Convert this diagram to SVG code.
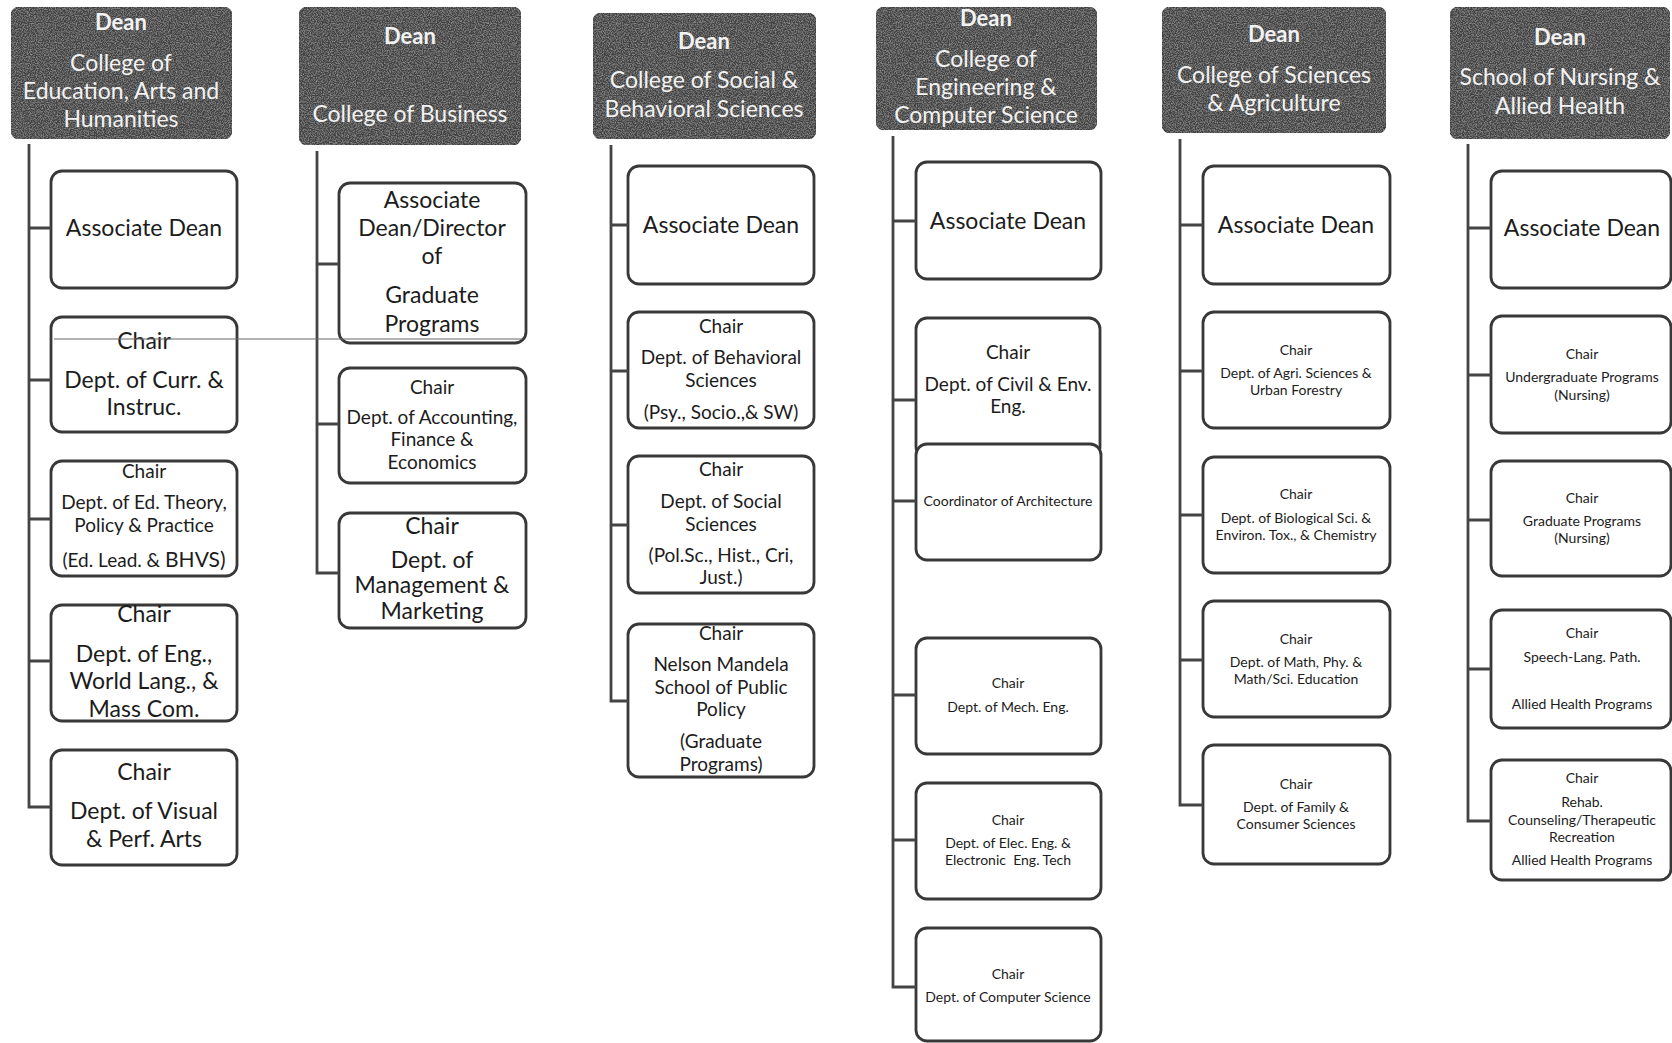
<svg xmlns="http://www.w3.org/2000/svg" width="1672" height="1043" viewBox="0 0 1672 1043">
  <defs>
    <!-- faint speckle texture for the dark heading boxes -->
    <filter id="grain" x="0" y="0" width="100%" height="100%">
      <feTurbulence type="fractalNoise" baseFrequency="0.85" numOctaves="2" seed="7" result="noise"/>
      <feColorMatrix in="noise" type="matrix" values="0 0 0 0 1  0 0 0 0 1  0 0 0 0 1  0.55 0 0 0 -0.22" result="speck"/>
      <feComposite in="speck" in2="SourceGraphic" operator="in" result="speckIn"/>
      <feMerge><feMergeNode in="SourceGraphic"/><feMergeNode in="speckIn"/></feMerge>
    </filter>
  </defs>
  <style>
    .dean { fill: #434343; stroke: #3e3e3e; stroke-width: 1.5; filter: url(#grain); }
    .box { fill: #ffffff; stroke: #383838; stroke-width: 2.8; }
    .link { fill: none; stroke: #444444; stroke-width: 2.8; }
    .stray { fill: none; stroke: #6a6a6a; stroke-width: 1.2; }
    text { font-family: Lato, "Noto Sans", "Liberation Sans", sans-serif; text-anchor: middle; }
    .dt { fill: #f2f2f2; font-size: 23px; }
    .dh { fill: #f2f2f2; font-size: 22px; font-weight: bold; }
    .l { fill: #1c1c1c; font-size: 23px; }
    .m { fill: #1c1c1c; font-size: 19px; }
    .s { fill: #1c1c1c; font-size: 14px; }
    .xs { fill: #1c1c1c; font-size: 14px; }
  </style>

  <!-- College of Education, Arts and Humanities -->
  <g id="dean-education">
    <rect class="dean" x="11" y="7" width="221" height="132" rx="9"/>
    <text class="dh" x="121" y="30">Dean</text>
    <text class="dt" x="121" y="71">College of</text>
    <text class="dt" x="121" y="99">Education, Arts and</text>
    <text class="dt" x="121" y="127">Humanities</text>
  </g>
  <g id="edu-assoc-dean">
    <rect class="box" x="51" y="171" width="186" height="117" rx="11"/>
    <text class="l" x="144" y="236">Associate Dean</text>
  </g>
  <g id="edu-curr-instruc">
    <rect class="box" x="51" y="317" width="186" height="115" rx="11"/>
    <text class="l" x="144" y="349">Chair</text>
    <text class="l" x="144" y="388">Dept. of Curr. &amp;</text>
    <text class="l" x="144" y="415">Instruc.</text>
  </g>
  <g id="edu-ed-theory">
    <rect class="box" x="51" y="461" width="186" height="115" rx="11"/>
    <text class="m" x="144" y="478" font-size="17">Chair</text>
    <text class="m" x="144" y="509">Dept. of Ed. Theory,</text>
    <text class="m" x="144" y="532">Policy &amp; Practice</text>
    <text class="m" x="144" y="567">(Ed. Lead. &amp; <tspan font-size="21">BHVS)</tspan></text>
  </g>
  <g id="edu-english">
    <rect class="box" x="51" y="605" width="186" height="116" rx="11"/>
    <text class="l" x="144" y="622">Chair</text>
    <text class="l" x="144" y="662">Dept. of Eng.,</text>
    <text class="l" x="144" y="689">World Lang., &amp;</text>
    <text class="l" x="144" y="717">Mass Com.</text>
  </g>
  <g id="edu-visual-arts">
    <rect class="box" x="51" y="750" width="186" height="115" rx="11"/>
    <text class="l" x="144" y="780">Chair</text>
    <text class="l" x="144" y="819">Dept. of Visual</text>
    <text class="l" x="144" y="847">&amp; Perf. Arts</text>
  </g>

  <!-- College of Business -->
  <g id="dean-business">
    <rect class="dean" x="299" y="7" width="222" height="138" rx="9"/>
    <text class="dh" x="410" y="44">Dean</text>
    <text class="dt" x="410" y="122">College of Business</text>
  </g>
  <g id="bus-assoc-dean">
    <rect class="box" x="339" y="183" width="187" height="160" rx="11"/>
    <text class="l" x="432" y="208">Associate</text>
    <text class="l" x="432" y="236">Dean/Director</text>
    <text class="l" x="432" y="264">of</text>
    <text class="l" x="432" y="303">Graduate</text>
    <text class="l" x="432" y="332">Programs</text>
  </g>
  <g id="bus-accounting">
    <rect class="box" x="339" y="368" width="187" height="115" rx="11"/>
    <text class="m" x="432" y="394">Chair</text>
    <text class="m" x="432" y="424">Dept. of Accounting,</text>
    <text class="m" x="432" y="446">Finance &amp;</text>
    <text class="m" x="432" y="469">Economics</text>
  </g>
  <g id="bus-management">
    <rect class="box" x="339" y="513" width="187" height="115" rx="11"/>
    <text class="l" x="432" y="534" font-size="20">Chair</text>
    <text class="l" x="432" y="568" font-size="20">Dept. of</text>
    <text class="l" x="432" y="593" font-size="20">Management &amp;</text>
    <text class="l" x="432" y="619" font-size="20">Marketing</text>
  </g>

  <!-- College of Social & Behavioral Sciences -->
  <g id="dean-social">
    <rect class="dean" x="593" y="13" width="223" height="126" rx="9"/>
    <text class="dh" x="704" y="49">Dean</text>
    <text class="dt" x="704" y="88">College of Social &amp;</text>
    <text class="dt" x="704" y="117">Behavioral Sciences</text>
  </g>
  <g id="soc-assoc-dean">
    <rect class="box" x="628" y="166" width="186" height="118" rx="11"/>
    <text class="l" x="721" y="233">Associate Dean</text>
  </g>
  <g id="soc-behavioral">
    <rect class="box" x="628" y="312" width="186" height="116" rx="11"/>
    <text class="m" x="721" y="333">Chair</text>
    <text class="m" x="721" y="364">Dept. of Behavioral</text>
    <text class="m" x="721" y="387">Sciences</text>
    <text class="m" x="721" y="419">(Psy., Socio.,&amp; SW)</text>
  </g>
  <g id="soc-social">
    <rect class="box" x="628" y="456" width="186" height="137" rx="11"/>
    <text class="m" x="721" y="476">Chair</text>
    <text class="m" x="721" y="508">Dept. of Social</text>
    <text class="m" x="721" y="531">Sciences</text>
    <text class="m" x="721" y="562">(Pol.Sc., Hist., Cri,</text>
    <text class="m" x="721" y="584">Just.)</text>
  </g>
  <g id="soc-public-policy">
    <rect class="box" x="628" y="624" width="186" height="153" rx="11"/>
    <text class="m" x="721" y="640">Chair</text>
    <text class="m" x="721" y="671">Nelson Mandela</text>
    <text class="m" x="721" y="694">School of Public</text>
    <text class="m" x="721" y="716">Policy</text>
    <text class="m" x="721" y="748">(Graduate</text>
    <text class="m" x="721" y="771">Programs)</text>
  </g>

  <!-- College of Engineering & Computer Science -->
  <g id="dean-engineering">
    <rect class="dean" x="876" y="7" width="221" height="123" rx="9"/>
    <text class="dh" x="986" y="26">Dean</text>
    <text class="dt" x="986" y="67">College of</text>
    <text class="dt" x="986" y="95">Engineering &amp;</text>
    <text class="dt" x="986" y="123">Computer Science</text>
  </g>
  <g id="eng-assoc-dean">
    <rect class="box" x="916" y="162" width="185" height="117" rx="11"/>
    <text class="l" x="1008" y="229">Associate Dean</text>
  </g>
  <g id="eng-civil">
    <rect class="box" x="916" y="318" width="184" height="140" rx="11"/>
    <text class="m" x="1008" y="359">Chair</text>
    <text class="m" x="1008" y="391">Dept. of Civil &amp; Env.</text>
    <text class="m" x="1008" y="413">Eng.</text>
  </g>
  <g id="eng-architecture">
    <rect class="box" x="916" y="444" width="185" height="116" rx="11"/>
    <text class="xs" x="1008" y="506" font-size="13.5">Coordinator of Architecture</text>
  </g>
  <g id="eng-mechanical">
    <rect class="box" x="916" y="638" width="185" height="116" rx="11"/>
    <text class="s" x="1008" y="688">Chair</text>
    <text class="s" x="1008" y="712">Dept. of Mech. Eng.</text>
  </g>
  <g id="eng-electrical">
    <rect class="box" x="916" y="783" width="185" height="116" rx="11"/>
    <text class="s" x="1008" y="825">Chair</text>
    <text class="s" x="1008" y="848">Dept. of Elec. Eng. &amp;</text>
    <text class="s" x="1008" y="865" xml:space="preserve">Electronic  Eng. Tech</text>
  </g>
  <g id="eng-computer-science">
    <rect class="box" x="916" y="928" width="185" height="113" rx="11"/>
    <text class="s" x="1008" y="979">Chair</text>
    <text class="s" x="1008" y="1002">Dept. of Computer Science</text>
  </g>

  <!-- College of Sciences & Agriculture -->
  <g id="dean-sciences">
    <rect class="dean" x="1162" y="7" width="224" height="126" rx="9"/>
    <text class="dh" x="1274" y="42">Dean</text>
    <text class="dt" x="1274" y="83">College of Sciences</text>
    <text class="dt" x="1274" y="111">&amp; Agriculture</text>
  </g>
  <g id="sci-assoc-dean">
    <rect class="box" x="1203" y="166" width="187" height="118" rx="11"/>
    <text class="l" x="1296" y="233">Associate Dean</text>
  </g>
  <g id="sci-agriculture">
    <rect class="box" x="1203" y="312" width="187" height="116" rx="11"/>
    <text class="xs" x="1296" y="355">Chair</text>
    <text class="xs" x="1296" y="378">Dept. of Agri. Sciences &amp;</text>
    <text class="xs" x="1296" y="395">Urban Forestry</text>
  </g>
  <g id="sci-biology">
    <rect class="box" x="1203" y="457" width="187" height="116" rx="11"/>
    <text class="xs" x="1296" y="499">Chair</text>
    <text class="xs" x="1296" y="523">Dept. of Biological Sci. &amp;</text>
    <text class="xs" x="1296" y="540">Environ. Tox., &amp; Chemistry</text>
  </g>
  <g id="sci-math-physics">
    <rect class="box" x="1203" y="601" width="187" height="116" rx="11"/>
    <text class="xs" x="1296" y="644">Chair</text>
    <text class="xs" x="1296" y="667">Dept. of Math, Phy. &amp;</text>
    <text class="xs" x="1296" y="684">Math/Sci. Education</text>
  </g>
  <g id="sci-family">
    <rect class="box" x="1203" y="745" width="187" height="119" rx="11"/>
    <text class="xs" x="1296" y="789">Chair</text>
    <text class="xs" x="1296" y="812">Dept. of Family &amp;</text>
    <text class="xs" x="1296" y="829">Consumer Sciences</text>
  </g>

  <!-- School of Nursing & Allied Health -->
  <g id="dean-nursing">
    <rect class="dean" x="1450" y="7" width="220" height="132" rx="9"/>
    <text class="dh" x="1560" y="45">Dean</text>
    <text class="dt" x="1560" y="85">School of Nursing &amp;</text>
    <text class="dt" x="1560" y="114">Allied Health</text>
  </g>
  <g id="nur-assoc-dean">
    <rect class="box" x="1491" y="171" width="180" height="117" rx="11"/>
    <text class="l" x="1582" y="236">Associate Dean</text>
  </g>
  <g id="nur-undergraduate">
    <rect class="box" x="1491" y="316" width="180" height="117" rx="11"/>
    <text class="xs" x="1582" y="359">Chair</text>
    <text class="xs" x="1582" y="382">Undergraduate Programs</text>
    <text class="xs" x="1582" y="400">(Nursing)</text>
  </g>
  <g id="nur-graduate">
    <rect class="box" x="1491" y="461" width="180" height="115" rx="11"/>
    <text class="xs" x="1582" y="503">Chair</text>
    <text class="xs" x="1582" y="526">Graduate Programs</text>
    <text class="xs" x="1582" y="543">(Nursing)</text>
  </g>
  <g id="nur-speech">
    <rect class="box" x="1491" y="610" width="180" height="118" rx="11"/>
    <text class="xs" x="1582" y="638">Chair</text>
    <text class="xs" x="1582" y="662">Speech-Lang. Path.</text>
    <text class="xs" x="1582" y="709">Allied Health Programs</text>
  </g>
  <g id="nur-rehab">
    <rect class="box" x="1491" y="760" width="180" height="120" rx="11"/>
    <text class="xs" x="1582" y="783">Chair</text>
    <text class="xs" x="1582" y="807">Rehab.</text>
    <text class="xs" x="1582" y="825">Counseling/Therapeutic</text>
    <text class="xs" x="1582" y="842">Recreation</text>
    <text class="xs" x="1582" y="865">Allied Health Programs</text>
  </g>

  <!-- reporting lines: one trunk per college with a branch to each unit;
       drawn last so the thin rule across the first chair box stays visible -->
  <g id="connectors">
    <path class="link" d="M29 144 V807 H51 M29 228 H51 M29 380 H51 M29 519 H51 M29 661 H51"/>
    <path class="link" d="M317 151 V573 H339 M317 264 H339 M317 424 H339"/>
    <path class="link" d="M611 145 V701 H628 M611 225 H628 M611 371 H628 M611 525 H628"/>
    <path class="link" d="M893 136 V987 H916 M893 221 H916 M893 400 H916 M893 501 H916 M893 695 H916 M893 840 H916"/>
    <path class="link" d="M1180 139 V805 H1203 M1180 225 H1203 M1180 371 H1203 M1180 515 H1203 M1180 660 H1203"/>
    <path class="link" d="M1468 144 V821 H1491 M1468 228 H1491 M1468 375 H1491 M1468 520 H1491 M1468 669 H1491"/>
    <path class="stray" d="M54 339 H522"/>
  </g>
</svg>
